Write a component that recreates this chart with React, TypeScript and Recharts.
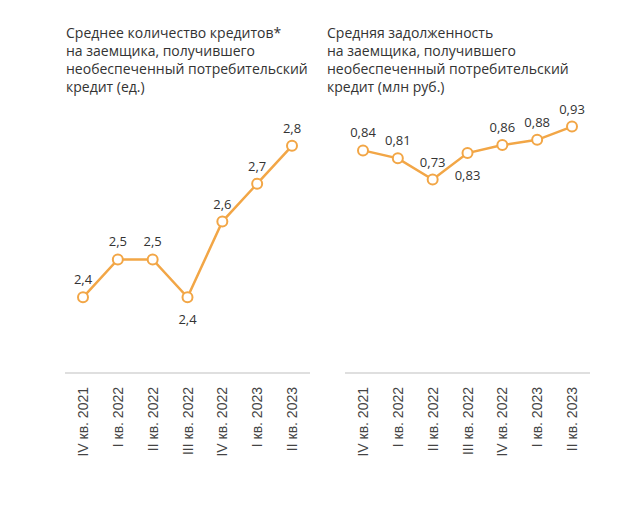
import React from 'react';
import { LineChart, Line, XAxis, YAxis, LabelList } from 'recharts';

const QUARTERS = ['IV кв. 2021', 'I кв. 2022', 'II кв. 2022', 'III кв. 2022', 'IV кв. 2022', 'I кв. 2023', 'II кв. 2023'];
const LOANS_COUNT = [2.4, 2.5, 2.5, 2.4, 2.6, 2.7, 2.8];
const DEBT_AMOUNT = [0.84, 0.81, 0.73, 0.83, 0.86, 0.88, 0.93];

const LEFT_TITLE = ['Среднее количество кредитов*', 'на заемщика, получившего', 'необеспеченный потребительский', 'кредит (ед.)'];
const RIGHT_TITLE = ['Средняя задолженность', 'на заемщика, получившего', 'необеспеченный потребительский', 'кредит (млн руб.)'];

// индексы точек, у которых подпись снизу
const LEFT_BELOW = [3];
const RIGHT_BELOW = [3];

const ORANGE = '#F2A646';
const TEXT = '#333333';

const fmt = (v: number) => String(v).replace('.', ',');

const QuarterTick = (props: any) => {
  const { x, y, payload } = props;
  return (
    <text
      x={x}
      y={y}
      transform={`rotate(-90, ${x}, ${y})`}
      textAnchor="end"
      dominantBaseline="central"
      fill="#444"
      fontSize={14}
      fontFamily="'Liberation Sans', Arial, sans-serif"
    >
      {payload.value}
    </text>
  );
};

const makeLabel = (below: number[]) => (props: any) => {
  const { x, y, value, index } = props;
  const isBelow = below.includes(index);
  return (
    <text
      x={x}
      y={isBelow ? y + 27 : y - 13}
      textAnchor="middle"
      fill={TEXT}
      fontSize={13}
      fontFamily="'Open Sans', sans-serif"
    >
      {fmt(value)}
    </text>
  );
};

const Title: React.FC<{ lines: string[]; left: number }> = ({ lines, left }) => (
  <div
    style={{
      position: 'absolute',
      left,
      top: 24,
      fontFamily: "'Open Sans', sans-serif",
      fontSize: 14,
      lineHeight: '18px',
      color: TEXT,
      whiteSpace: 'nowrap',
    }}
  >
    {lines.map((l) => (
      <div key={l}>{l}</div>
    ))}
  </div>
);

const Panel: React.FC<{
  values: number[];
  domain: [number, number];
  below: number[];
  left: number;
  margin: { top: number; right: number; bottom: number; left: number };
}> = ({ values, domain, below, left, margin }) => {
  const data = QUARTERS.map((q, i) => ({ name: q, value: values[i] }));
  return (
    <div style={{ position: 'absolute', left, top: 0 }}>
      <LineChart width={320} height={515} data={data} margin={margin}>
        <XAxis
          dataKey="name"
          interval={0}
          padding={{ left: 18, right: 18 }}
          axisLine={{ stroke: '#d4d4d4', strokeWidth: 1.5 }}
          tickLine={false}
          tick={<QuarterTick />}
          tickMargin={8}
          height={142}
        />
        <YAxis hide domain={domain} />
        <Line
          type="linear"
          dataKey="value"
          stroke={ORANGE}
          strokeWidth={2.5}
          dot={{ r: 5, fill: '#fff', stroke: ORANGE, strokeWidth: 2 }}
          isAnimationActive={false}
        >
          <LabelList dataKey="value" content={makeLabel(below)} />
        </Line>
      </LineChart>
    </div>
  );
};

const App: React.FC = () => {
  return (
    <div style={{ position: 'absolute', left: 0, top: 0, width: 640, height: 515, background: '#fff' }}>
      <Title lines={LEFT_TITLE} left={66} />
      <Title lines={RIGHT_TITLE} left={327} />
      <Panel
        values={LOANS_COUNT}
        domain={[2.2, 2.9]}
        below={LEFT_BELOW}
        left={0}
        margin={{ top: 108, right: 10, bottom: 0, left: 65 }}
      />
      <Panel
        values={DEBT_AMOUNT}
        domain={[0, 1]}
        below={RIGHT_BELOW}
        left={320}
        margin={{ top: 108, right: 50, bottom: 0, left: 25 }}
      />
    </div>
  );
};

export default App;
